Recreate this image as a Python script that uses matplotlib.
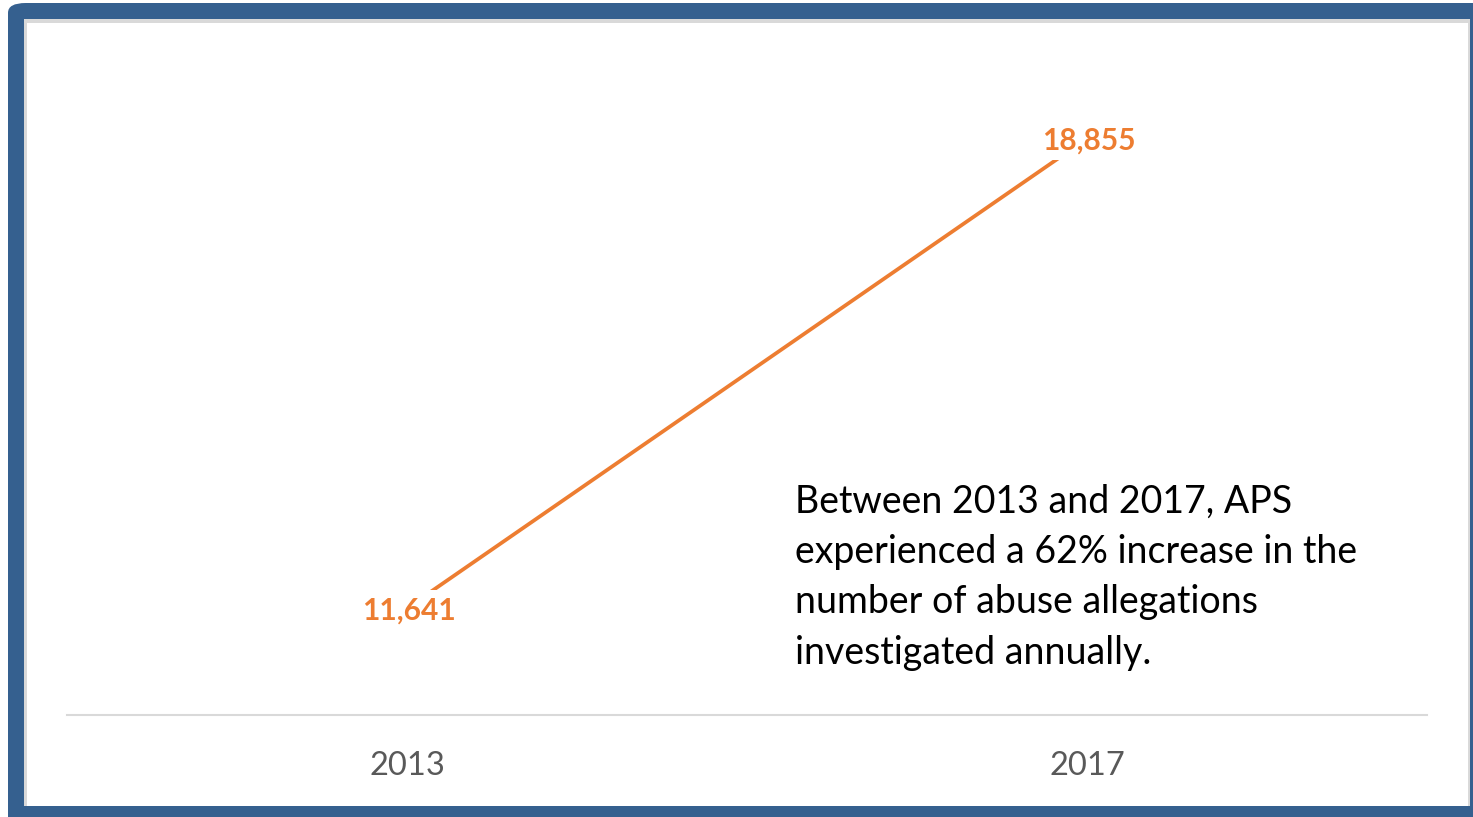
import matplotlib
matplotlib.use('Agg')

import matplotlib.pyplot as plt
from matplotlib.patches import Rectangle, FancyBboxPatch

# Данные
years = ['2013', '2017']
allegations = [11641, 18855]
note = ('Between 2013 and 2017, APS\n'
        'experienced a 62% increase in the\n'
        'number of abuse allegations\n'
        'investigated annually.')

ORANGE = '#ED7D31'
FRAME = '#35608F'

plt.rcParams['font.family'] = ['Lato', 'DejaVu Sans']

W, H = 1473, 817
fig = plt.figure(figsize=(W / 100, H / 100), dpi=100)
fig.patch.set_facecolor('white')


def px(x0, y0, x1, y1):
    """Прямоугольник в пикселях (сверху вниз) -> доли фигуры."""
    return x0 / W, 1 - y1 / H, (x1 - x0) / W, (y1 - y0) / H


# Синяя рамка со скруглённым углом
x, y, w, h = px(8, 3, 1490, 830)
fig.patches.append(FancyBboxPatch((x, y), w, h, boxstyle='round,pad=0,rounding_size=0.012',
                                  transform=fig.transFigure, facecolor=FRAME,
                                  edgecolor='none', zorder=-3))
# Серая тень и белое поле внутри
x, y, w, h = px(24, 19, 1470, 806)
fig.patches.append(Rectangle((x, y), w, h, transform=fig.transFigure,
                             facecolor='#D9D9D9', edgecolor='none', zorder=-2))
x, y, w, h = px(27, 23, 1468, 806)
fig.patches.append(Rectangle((x, y), w, h, transform=fig.transFigure,
                             facecolor='white', edgecolor='none', zorder=-1))

ax = fig.add_axes([67 / W, 1 - 715 / H, (1427 - 67) / W, (715 - 64) / H])
ax.set_facecolor('none')

xs = list(range(len(years)))
ax.plot(xs, allegations, color=ORANGE, linewidth=2.7, solid_capstyle='butt', zorder=2)

for xi, val in zip(xs, allegations):
    ax.annotate(f'{val:,}', (xi, val), xytext=(2, -2), textcoords='offset pixels',
                ha='center', va='center', color=ORANGE,
                fontsize=21.5, fontweight='bold', zorder=3,
                bbox=dict(facecolor='white', edgecolor='none', pad=4))

ax.set_xlim(-0.5, 1.5)
ax.set_ylim(10000, 20000)
ax.set_xticks(xs)
ax.set_xticklabels(years, fontsize=23.5, color='#595959')
ax.tick_params(axis='x', length=0, pad=26)
ax.set_yticks([])

for side in ('top', 'right', 'left'):
    ax.spines[side].set_visible(False)
ax.spines['bottom'].set_color('#D9D9D9')
ax.spines['bottom'].set_linewidth(1.5)

# Пояснение справа
fig.text(795 / W, 1 - 484 / H, note, ha='left', va='top', fontsize=27,
         color='black', linespacing=1.49)

fig.savefig('out.png', dpi=100)
